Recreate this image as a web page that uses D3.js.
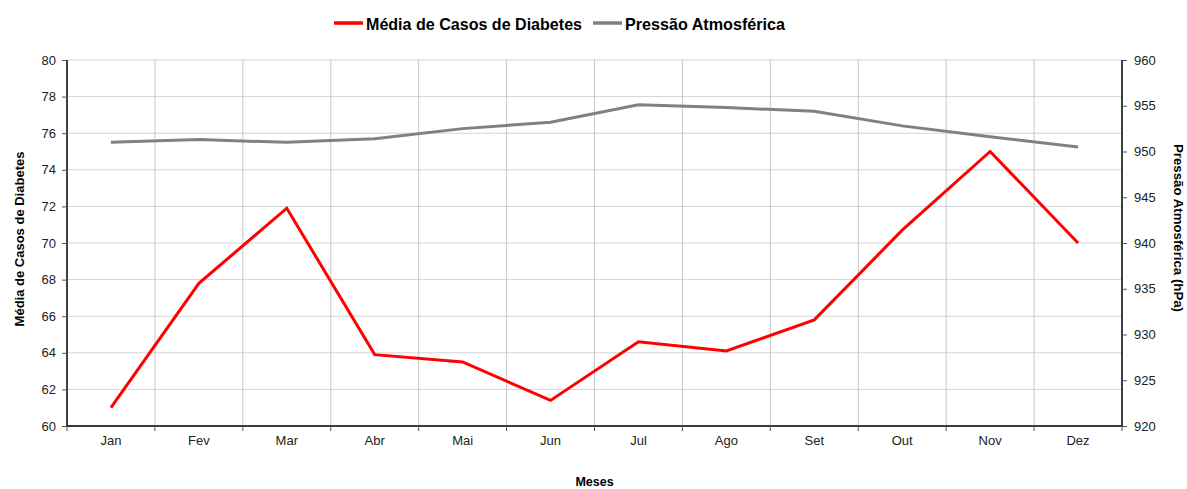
<!DOCTYPE html>
<html>
<head>
<meta charset="utf-8">
<script src="https://cdn.jsdelivr.net/npm/d3@7"></script>
<style>
  body { margin: 0; background: #fff; }
  svg { display: block; font-family: "Liberation Sans", Arial, sans-serif; }
</style>
</head>
<body>
<svg id="chart"></svg>
<script>
// chart data
const months = ["Jan", "Fev", "Mar", "Abr", "Mai", "Jun", "Jul", "Ago", "Set", "Out", "Nov", "Dez"];
const diabetes = [61.0, 67.8, 71.9, 63.9, 63.5, 61.4, 64.6, 64.1, 65.8, 70.7, 75.0, 70.0];
const pressure = [951.0, 951.3, 951.0, 951.4, 952.5, 953.2, 955.1, 954.8, 954.4, 952.8, 951.6, 950.5];
const leftTicks = [60, 62, 64, 66, 68, 70, 72, 74, 76, 78, 80];
const rightTicks = [920, 925, 930, 935, 940, 945, 950, 955, 960];
const seriesNames = ["Média de Casos de Diabetes", "Pressão Atmosférica"];

const W = 1187, H = 489;
const margin = { top: 60, right: 65, bottom: 63, left: 67 };
const width = W - margin.left - margin.right, height = H - margin.top - margin.bottom;

const svg = d3.select("#chart").attr("width", W).attr("height", H);
const g = svg.append("g").attr("transform", `translate(${margin.left},${margin.top})`);

let x = d3.scaleBand().domain(months).range([0, width]);
let yL = d3.scaleLinear().domain([60, 80]).range([height, 0]);
let yR = d3.scaleLinear().domain([920, 960]).range([height, 0]);

// horizontal grid
g.append("g")
  .selectAll("line")
  .data(leftTicks)
  .enter().append("line")
  .attr("x1", 0).attr("x2", width)
  .attr("y1", d => yL(d)).attr("y2", d => yL(d))
  .attr("stroke", "#d4d4d4").attr("stroke-width", 1);

// vertical grid at band edges
const edges = months.slice(1).map(m => x(m));
g.append("g")
  .selectAll("line")
  .data(edges)
  .enter().append("line")
  .attr("x1", d => d).attr("x2", d => d)
  .attr("y1", 0).attr("y2", height)
  .attr("stroke", "#c8c8c8").attr("stroke-width", 1);

// left axis
const axL = g.append("g")
  .call(d3.axisLeft(yL).tickValues(leftTicks).tickSize(5).tickPadding(6));
axL.select(".domain").attr("stroke", "#000").attr("stroke-width", 1.5).attr("d", `M0,0V${height}`);
axL.selectAll(".tick line").attr("stroke", "#555");
axL.selectAll(".tick text").attr("font-size", 13).attr("fill", "#222")
  .attr("font-family", "Liberation Sans, Arial, sans-serif");

// right axis
const axR = g.append("g").attr("transform", `translate(${width},0)`)
  .call(d3.axisRight(yR).tickValues(rightTicks).tickSize(5).tickPadding(7));
axR.select(".domain").attr("stroke", "#000").attr("stroke-width", 1.5).attr("d", `M0,0V${height}`);
axR.selectAll(".tick line").attr("stroke", "#555");
axR.selectAll(".tick text").attr("font-size", 13).attr("fill", "#222")
  .attr("font-family", "Liberation Sans, Arial, sans-serif");

// bottom axis: labels at centers, ticks at band edges
const axB = g.append("g").attr("transform", `translate(0,${height})`)
  .call(d3.axisBottom(x).tickSize(0).tickPadding(10));
axB.select(".domain").attr("stroke", "#000").attr("stroke-width", 1.5).attr("d", `M0,0H${width}`);
axB.selectAll(".tick text").attr("font-size", 13).attr("fill", "#222")
  .attr("font-family", "Liberation Sans, Arial, sans-serif");
g.append("g")
  .selectAll("line")
  .data([0].concat(edges).concat([width]))
  .enter().append("line")
  .attr("x1", d => d).attr("x2", d => d)
  .attr("y1", height).attr("y2", height + 5)
  .attr("stroke", "#555");

// lines
const cx = d => x(d) + x.bandwidth() / 2;
g.append("path")
  .datum(pressure)
  .attr("fill", "none").attr("stroke", "#808080").attr("stroke-width", 3)
  .attr("d", d3.line().x((d, i) => cx(months[i])).y(d => yR(d)));
g.append("path")
  .datum(diabetes)
  .attr("fill", "none").attr("stroke", "#ff0000").attr("stroke-width", 3)
  .attr("d", d3.line().x((d, i) => cx(months[i])).y(d => yL(d)));

// axis titles
svg.append("text")
  .attr("transform", `translate(24,239) rotate(-90)`)
  .attr("text-anchor", "middle").attr("font-size", 13).attr("font-weight", "bold")
  .text("Média de Casos de Diabetes");
svg.append("text")
  .attr("transform", `translate(1174,228) rotate(90)`)
  .attr("text-anchor", "middle").attr("font-size", 12.5).attr("font-weight", "bold")
  .attr("textLength", 168).attr("lengthAdjust", "spacingAndGlyphs")
  .text("Pressão Atmosférica (hPa)");
svg.append("text")
  .attr("x", margin.left + width / 2).attr("y", 486)
  .attr("text-anchor", "middle").attr("font-size", 12.5).attr("font-weight", "bold")
  .text("Meses");

// legend
const colors = ["#ff0000", "#808080"];
const legendX = [334, 593];
const legendW = [216, 160];
seriesNames.forEach((name, i) => {
  const lx = legendX[i];
  svg.append("line")
    .attr("x1", lx).attr("x2", lx + 29).attr("y1", 23).attr("y2", 23)
    .attr("stroke", colors[i]).attr("stroke-width", 3.5);
  svg.append("text")
    .attr("x", lx + 32).attr("y", 29.5)
    .attr("font-size", 17).attr("font-weight", "bold")
    .attr("textLength", legendW[i]).attr("lengthAdjust", "spacingAndGlyphs")
    .text(name);
});
</script>
</body>
</html>
